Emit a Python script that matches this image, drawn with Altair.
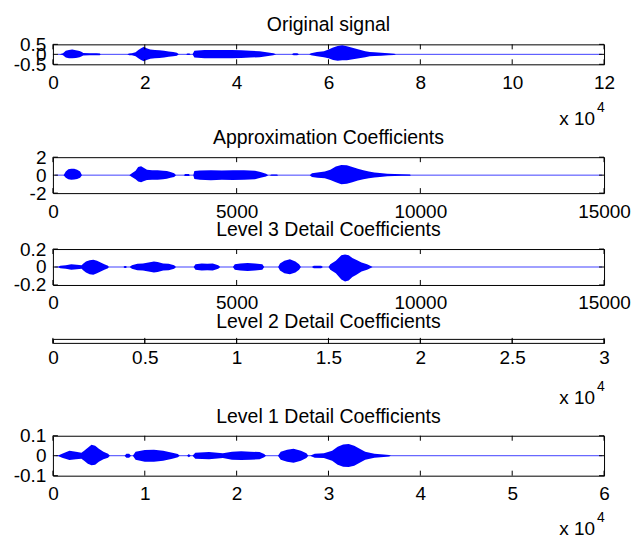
import altair as alt
import pandas as pd

FONT = "Liberation Sans"
BLUE = "#0000ff"
W = 552
TL = 5  # inward tick length (px)

# ---------------- Panel 1: Original signal (x in units of 1e4 samples)
orig_x = [0.15, 0.22, 0.28, 0.35, 0.42, 0.50, 0.58, 0.63, 0.66, 0.80, 0.95, 1.02, 1.04,
          1.62, 1.66, 1.72, 1.80, 1.86, 1.92, 1.98, 2.04, 2.12, 2.22, 2.32, 2.42, 2.52, 2.62, 2.70, 2.74,
          2.90, 2.93, 2.97, 3.00,
          3.04, 3.08, 3.30, 3.60, 3.90, 4.10, 4.30, 4.50, 4.65, 4.80, 4.86,
          5.20, 5.24, 5.32, 5.36,
          5.58, 5.62, 5.75, 5.90, 6.00, 6.10, 6.20, 6.30, 6.40, 6.50, 6.60, 6.70, 6.80, 6.90, 7.00, 7.15, 7.30, 7.43, 7.47]
orig_hi = [0, 0.06, 0.18, 0.22, 0.24, 0.21, 0.17, 0.12, 0.07, 0.06, 0.06, 0.04, 0,
           0, 0.04, 0.06, 0.10, 0.22, 0.30, 0.38, 0.30, 0.24, 0.22, 0.20, 0.18, 0.14, 0.12, 0.08, 0,
           0, 0.04, 0.04, 0,
           0, 0.18, 0.22, 0.22, 0.22, 0.20, 0.18, 0.16, 0.10, 0.05, 0,
           0, 0.05, 0.05, 0,
           0, 0.06, 0.12, 0.16, 0.24, 0.34, 0.42, 0.45, 0.40, 0.34, 0.28, 0.22, 0.16, 0.12, 0.10, 0.08, 0.06, 0.03, 0]
orig_lo = [0, -0.05, -0.16, -0.20, -0.20, -0.18, -0.15, -0.10, -0.06, -0.05, -0.05, -0.04, 0,
           0, -0.04, -0.05, -0.09, -0.20, -0.28, -0.34, -0.28, -0.22, -0.20, -0.18, -0.16, -0.12, -0.10, -0.07, 0,
           0, -0.03, -0.03, 0,
           0, -0.16, -0.20, -0.20, -0.20, -0.18, -0.16, -0.14, -0.09, -0.04, 0,
           0, -0.04, -0.04, 0,
           0, -0.05, -0.10, -0.14, -0.20, -0.28, -0.32, -0.30, -0.30, -0.26, -0.22, -0.18, -0.14, -0.10, -0.08, -0.07, -0.05, -0.03, 0]
orig_xticks = [0, 2, 4, 6, 8, 10, 12]
orig_yticks = [-0.5, 0, 0.5]
orig_span = [0.1, 11.95]

# ---------------- Panel 2: Approximation coefficients
appr_x = [290, 350, 420, 500, 580, 660, 740, 790,
          2080, 2150, 2250, 2320, 2400, 2480, 2560, 2700, 2850, 3000, 3100, 3200, 3300, 3350,
          3560, 3600, 3700, 3730,
          3820, 3850, 4000, 4300, 4600, 4900, 5200, 5500, 5650, 5800, 5860,
          5900, 5950, 6100, 6130,
          6990, 7050, 7200, 7400, 7550, 7700, 7850, 8000, 8150, 8300, 8450, 8600, 8750, 8900, 9100, 9300, 9500, 9720, 9740]
appr_hi = [0, 0.4, 0.65, 0.72, 0.70, 0.60, 0.40, 0,
           0, 0.2, 0.5, 0.9, 1.0, 0.8, 0.6, 0.55, 0.55, 0.5, 0.45, 0.35, 0.2, 0,
           0, 0.12, 0.12, 0,
           0, 0.45, 0.52, 0.55, 0.52, 0.55, 0.55, 0.50, 0.35, 0.15, 0,
           0, 0.06, 0.06, 0,
           0, 0.2, 0.3, 0.4, 0.6, 0.95, 1.12, 1.1, 0.9, 0.7, 0.55, 0.4, 0.3, 0.25, 0.15, 0.12, 0.1, 0.08, 0]
appr_lo = [0, -0.3, -0.45, -0.50, -0.48, -0.42, -0.30, 0,
           0, -0.2, -0.45, -0.7, -0.78, -0.65, -0.55, -0.5, -0.5, -0.45, -0.4, -0.3, -0.2, 0,
           0, -0.1, -0.1, 0,
           0, -0.42, -0.52, -0.56, -0.52, -0.55, -0.5, -0.45, -0.3, -0.15, 0,
           0, -0.06, -0.06, 0,
           0, -0.2, -0.28, -0.35, -0.55, -0.8, -1.0, -0.95, -0.8, -0.6, -0.45, -0.35, -0.25, -0.2, -0.12, -0.1, -0.08, -0.06, 0]
appr_xticks = [0, 5000, 10000, 15000]
appr_yticks = [-2, 0, 2]
appr_span = [60, 14950]

# ---------------- Panel 3: Level 3 detail coefficients
cd3_x = [130, 200, 350, 500, 650, 780, 830, 900, 1000, 1100, 1200, 1300, 1400, 1500, 1520,
         1920, 1950, 1990, 2010,
         2090, 2150, 2300, 2450, 2600, 2750, 2850, 3000, 3150, 3300, 3350,
         3830, 3880, 4050, 4200, 4350, 4500, 4550,
         4900, 4950, 5100, 5300, 5500, 5700, 5750,
         6130, 6180, 6300, 6450, 6600, 6700, 6750,
         7050, 7100, 7300, 7350,
         7500, 7550, 7700, 7850, 7950, 8050, 8150, 8250, 8400, 8550, 8650, 8700]
cd3_hi = [0, 0.015, 0.02, 0.03, 0.025, 0.02, 0.04, 0.06, 0.075, 0.08, 0.07, 0.05, 0.03, 0.015, 0,
          0, 0.01, 0.01, 0,
          0, 0.02, 0.035, 0.04, 0.05, 0.06, 0.055, 0.04, 0.035, 0.02, 0,
          0, 0.03, 0.04, 0.035, 0.04, 0.02, 0,
          0, 0.03, 0.04, 0.045, 0.04, 0.03, 0,
          0, 0.04, 0.07, 0.085, 0.06, 0.03, 0,
          0, 0.015, 0.015, 0,
          0, 0.03, 0.07, 0.13, 0.14, 0.13, 0.10, 0.08, 0.05, 0.03, 0.01, 0]
cd3_lo = [0, -0.015, -0.02, -0.03, -0.025, -0.02, -0.04, -0.06, -0.08, -0.085, -0.07, -0.05, -0.03, -0.015, 0,
          0, -0.01, -0.01, 0,
          0, -0.02, -0.035, -0.04, -0.05, -0.06, -0.055, -0.04, -0.035, -0.02, 0,
          0, -0.03, -0.04, -0.035, -0.04, -0.02, 0,
          0, -0.03, -0.04, -0.045, -0.04, -0.03, 0,
          0, -0.04, -0.07, -0.08, -0.06, -0.03, 0,
          0, -0.015, -0.015, 0,
          0, -0.03, -0.07, -0.14, -0.16, -0.15, -0.11, -0.09, -0.05, -0.03, -0.01, 0]
cd3_xticks = [0, 5000, 10000, 15000]
cd3_yticks = [-0.2, 0, 0.2]
cd3_span = [60, 14950]

# ---------------- Panel 4: Level 2 detail coefficients (x in units of 1e4)
cd2_xticks = [0, 0.5, 1, 1.5, 2, 2.5, 3]

# ---------------- Panel 5: Level 1 detail coefficients (x in units of 1e4)
cd1_x = [0.05, 0.10, 0.18, 0.25, 0.31, 0.34, 0.38, 0.42, 0.46, 0.50, 0.55, 0.60, 0.62,
         0.78, 0.80, 0.83, 0.85,
         0.87, 0.90, 1.00, 1.10, 1.20, 1.30, 1.36, 1.38,
         1.46, 1.48, 1.50,
         1.52, 1.55, 1.70, 1.85, 1.95, 2.05, 2.15, 2.25, 2.30, 2.32,
         2.45, 2.48, 2.55, 2.62, 2.70, 2.76, 2.78,
         2.80, 2.85, 2.95, 3.04, 3.10, 3.16, 3.22, 3.28, 3.34, 3.40, 3.50, 3.60, 3.66, 3.68]
cd1_hi = [0, 0.01, 0.025, 0.02, 0.015, 0.025, 0.04, 0.055, 0.05, 0.035, 0.02, 0.01, 0,
          0, 0.01, 0.01, 0,
          0, 0.02, 0.028, 0.03, 0.025, 0.015, 0.008, 0,
          0, 0.008, 0,
          0, 0.015, 0.018, 0.012, 0.02, 0.022, 0.02, 0.018, 0.008, 0,
          0, 0.02, 0.03, 0.035, 0.025, 0.012, 0,
          0, 0.01, 0.012, 0.025, 0.045, 0.056, 0.058, 0.05, 0.035, 0.02, 0.01, 0.006, 0.004, 0]
cd1_lo = [0, -0.01, -0.022, -0.018, -0.015, -0.025, -0.04, -0.048, -0.045, -0.03, -0.018, -0.01, 0,
          0, -0.01, -0.01, 0,
          0, -0.02, -0.03, -0.03, -0.025, -0.015, -0.008, 0,
          0, -0.008, 0,
          0, -0.015, -0.018, -0.012, -0.02, -0.022, -0.02, -0.018, -0.008, 0,
          0, -0.02, -0.03, -0.035, -0.025, -0.012, 0,
          0, -0.01, -0.012, -0.025, -0.045, -0.055, -0.057, -0.05, -0.035, -0.02, -0.01, -0.006, -0.004, 0]
cd1_xticks = [0, 1, 2, 3, 4, 5, 6]
cd1_yticks = [-0.1, 0, 0.1]
cd1_span = [0.03, 5.98]

exponent_text = ["x 10", "4"]


def panel(title, h, xdom, xticks, env=None, ydom=None, yticks=None, span=None,
          exponent=False, title_offset=-15.5, xlabel_pad=9, exp_gap=61):
    xscale = alt.Scale(domain=xdom, nice=False, zero=False)
    xaxis = alt.Axis(values=xticks, labelExpr="'' + datum.value", title=None,
                     labelFlush=False, labelOverlap=False, labelPadding=xlabel_pad,
                     ticks=False, domain=False, grid=False)
    tdf = pd.DataFrame({"t": xticks})
    layers = []
    tx = alt.X("t:Q", scale=xscale, axis=xaxis)
    if env is not None:
        x, hi, lo = env
        edf = pd.DataFrame({"x": x, "hi": hi, "lo": lo})
        yscale = alt.Scale(domain=ydom, nice=False, zero=False)
        yaxis = alt.Axis(values=yticks, labelExpr="'' + datum.value", title=None,
                         labelFlush=False, labelOverlap=False, labelPadding=7,
                         ticks=False, domain=False, grid=False)
        layers.append(alt.Chart(edf).mark_area(color=BLUE, opacity=1).encode(
            x=alt.X("x:Q", scale=xscale, axis=xaxis),
            y=alt.Y("hi:Q", scale=yscale, axis=yaxis),
            y2="lo:Q"))
        sdf = pd.DataFrame({"a": [span[0]], "b": [span[1]], "z": [0]})
        layers.append(alt.Chart(sdf).mark_rule(color=BLUE, strokeWidth=1, opacity=0.75).encode(
            x=alt.X("a:Q", scale=xscale, axis=xaxis), x2="b:Q",
            y=alt.Y("z:Q", scale=yscale, axis=yaxis)))
        ydf = pd.DataFrame({"v": yticks})
        layers.append(alt.Chart(ydf).mark_rule(color="black", strokeWidth=1).encode(
            y=alt.Y("v:Q", scale=yscale, axis=yaxis), x=alt.value(0), x2=alt.value(TL)))
        layers.append(alt.Chart(ydf).mark_rule(color="black", strokeWidth=1).encode(
            y=alt.Y("v:Q", scale=yscale, axis=yaxis), x=alt.value(W - TL), x2=alt.value(W)))
    layers.append(alt.Chart(tdf).mark_rule(color="black", strokeWidth=1).encode(
        x=tx, y=alt.value(0), y2=alt.value(TL)))
    layers.append(alt.Chart(tdf).mark_rule(color="black", strokeWidth=1).encode(
        x=tx, y=alt.value(h - TL), y2=alt.value(h)))
    if exponent:
        edf2 = pd.DataFrame({"s": [exponent_text[0]]})
        layers.append(alt.Chart(edf2).mark_text(font=FONT, fontSize=19, align="right",
                                                baseline="alphabetic", color="black").encode(
            text="s:N", x=alt.value(543), y=alt.value(h + exp_gap)))
        edf3 = pd.DataFrame({"s": [exponent_text[1]]})
        layers.append(alt.Chart(edf3).mark_text(font=FONT, fontSize=14, align="left",
                                                baseline="alphabetic", color="black").encode(
            text="s:N", x=alt.value(545), y=alt.value(h + exp_gap - 13)))
    ch = alt.layer(*layers).properties(
        width=W, height=h,
        title=alt.TitleParams(text=title, font=FONT, fontSize=19.5, fontWeight="normal",
                              color="black", offset=title_offset, frame="group",
                              baseline="alphabetic", anchor="middle"))
    return ch


p1 = panel("Original signal", 20, [0, 12], orig_xticks, (orig_x, orig_hi, orig_lo),
           [-0.5, 0.5], orig_yticks, orig_span, exponent=True)
p2 = panel("Approximation Coefficients", 36, [0, 15000], appr_xticks, (appr_x, appr_hi, appr_lo),
           [-2, 2], appr_yticks, appr_span)
p3 = panel("Level 3 Detail Coefficients", 36, [0, 15000], cd3_xticks, (cd3_x, cd3_hi, cd3_lo),
           [-0.2, 0.2], cd3_yticks, cd3_span)
p4 = panel("Level 2 Detail Coefficients", 4, [0, 3], cd2_xticks, exponent=True,
           title_offset=-10, xlabel_pad=6)
p5 = panel("Level 1 Detail Coefficients", 40, [0, 6], cd1_xticks, (cd1_x, cd1_hi, cd1_lo),
           [-0.1, 0.1], cd1_yticks, cd1_span, exponent=True, exp_gap=59)

chart = alt.vconcat(p1, p2, p3, p4, p5, spacing=-3).properties(
    padding={"left": 12, "top": 14, "right": 0, "bottom": 0},
    background="white",
).configure_view(stroke="black", strokeWidth=1, fill="white").configure_axis(
    labelFont=FONT, labelFontSize=19, labelColor="black", labelOverlap=False
)

chart.save("out.html", embed_options={"renderer": "svg", "actions": False})
